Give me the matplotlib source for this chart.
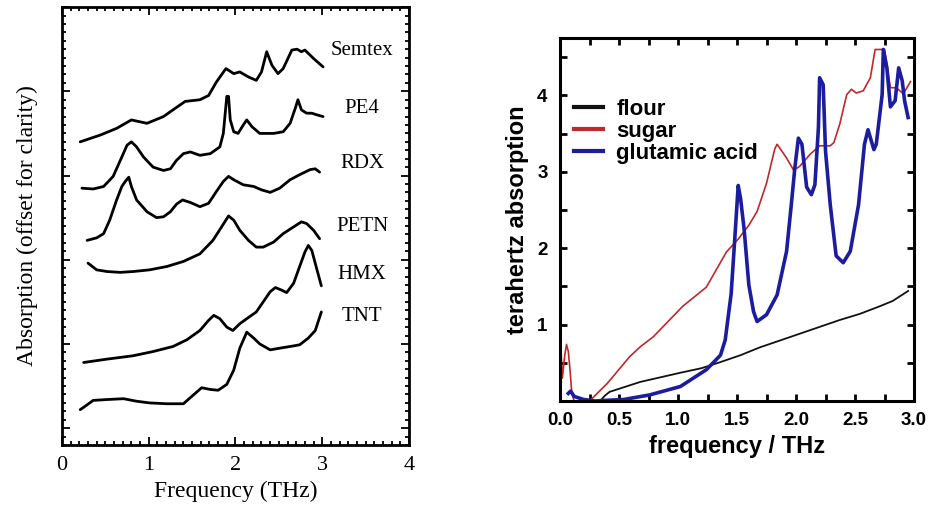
import matplotlib
matplotlib.use('agg')

import matplotlib.pyplot as plt
from matplotlib.lines import Line2D
from matplotlib.ticker import MultipleLocator

# ---- left panel: explosives, offset traces (x in THz, y in offset units) ----
semtex_x = [0.21, 0.44, 0.63, 0.80, 0.98, 1.17, 1.28, 1.42, 1.59, 1.69, 1.78, 1.89, 1.98, 2.05,
            2.15, 2.24, 2.30, 2.36, 2.42, 2.49, 2.55, 2.65, 2.71, 2.76, 2.80, 2.90, 3.01]
semtex_y = [3.40, 3.48, 3.56, 3.66, 3.62, 3.70, 3.78, 3.88, 3.90, 3.95, 4.11, 4.27, 4.21, 4.23,
            4.17, 4.13, 4.23, 4.47, 4.31, 4.21, 4.27, 4.49, 4.50, 4.47, 4.49, 4.39, 4.29]

pe4_x = [0.23, 0.36, 0.48, 0.59, 0.69, 0.75, 0.80, 0.86, 0.94, 1.05, 1.17, 1.25, 1.32, 1.40, 1.48,
         1.59, 1.71, 1.82, 1.86, 1.90, 1.92, 1.94, 1.98, 2.03, 2.09, 2.13, 2.19, 2.28, 2.44, 2.55,
         2.63, 2.69, 2.72, 2.76, 2.82, 2.88, 2.94, 3.01]
pe4_y = [2.85, 2.84, 2.87, 2.99, 3.22, 3.36, 3.40, 3.34, 3.22, 3.10, 3.06, 3.08, 3.18, 3.26, 3.28,
         3.24, 3.26, 3.34, 3.50, 3.94, 3.94, 3.66, 3.52, 3.50, 3.60, 3.66, 3.58, 3.50, 3.50, 3.52,
         3.62, 3.80, 3.90, 3.78, 3.74, 3.74, 3.72, 3.70]

rdx_x = [0.29, 0.40, 0.48, 0.55, 0.63, 0.69, 0.73, 0.77, 0.80, 0.86, 0.98, 1.09, 1.17, 1.25, 1.32,
         1.39, 1.48, 1.59, 1.69, 1.78, 1.86, 1.92, 1.98, 2.09, 2.21, 2.30, 2.40, 2.51, 2.63, 2.74,
         2.86, 2.92, 2.97]
rdx_y = [2.23, 2.26, 2.31, 2.47, 2.71, 2.87, 2.93, 2.98, 2.87, 2.71, 2.57, 2.50, 2.51, 2.57, 2.66,
         2.71, 2.68, 2.63, 2.67, 2.81, 2.93, 2.99, 2.95, 2.89, 2.87, 2.83, 2.80, 2.85, 2.95, 3.01,
         3.07, 3.08, 3.04]

petn_x = [0.30, 0.40, 0.52, 0.67, 0.82, 1.01, 1.21, 1.40, 1.59, 1.74, 1.84, 1.92, 1.98, 2.05,
          2.15, 2.24, 2.32, 2.44, 2.55, 2.67, 2.76, 2.82, 2.90, 2.97]
petn_y = [1.96, 1.88, 1.86, 1.85, 1.86, 1.88, 1.92, 1.98, 2.07, 2.23, 2.39, 2.52, 2.47, 2.35,
          2.23, 2.15, 2.15, 2.21, 2.31, 2.39, 2.45, 2.43, 2.35, 2.25]

hmx_x = [0.25, 0.52, 0.82, 1.05, 1.28, 1.44, 1.59, 1.69, 1.75, 1.82, 1.90, 1.97, 2.05, 2.13,
         2.24, 2.32, 2.40, 2.46, 2.53, 2.59, 2.67, 2.74, 2.80, 2.84, 2.88, 2.94, 2.99]
hmx_y = [0.78, 0.82, 0.86, 0.91, 0.97, 1.05, 1.16, 1.28, 1.34, 1.30, 1.20, 1.16, 1.24, 1.30,
         1.38, 1.50, 1.62, 1.67, 1.64, 1.61, 1.72, 1.92, 2.09, 2.17, 2.11, 1.88, 1.69]

tnt_x = [0.21, 0.28, 0.36, 0.52, 0.71, 0.86, 1.01, 1.21, 1.40, 1.51, 1.61, 1.71, 1.80, 1.90,
         1.98, 2.05, 2.13, 2.21, 2.28, 2.40, 2.51, 2.63, 2.74, 2.84, 2.92, 2.99]
tnt_y = [0.22, 0.27, 0.33, 0.34, 0.35, 0.32, 0.30, 0.29, 0.29, 0.39, 0.48, 0.46, 0.45, 0.52,
         0.69, 0.95, 1.14, 1.07, 1.00, 0.93, 0.95, 0.97, 0.99, 1.07, 1.16, 1.38]

left_names = ['Semtex', 'PE4', 'RDX', 'PETN', 'HMX', 'TNT']
left_label_y = [4.49, 3.80, 3.14, 2.40, 1.82, 1.33]

# ---- right panel: food/chemical absorption ----
flour_x = [0.34, 0.38, 0.42, 0.50, 0.68, 0.85, 1.02, 1.20, 1.36, 1.53, 1.69, 1.86, 2.03, 2.20,
           2.37, 2.54, 2.71, 2.82, 2.95]
flour_y = [0.00, 0.07, 0.12, 0.16, 0.25, 0.31, 0.37, 0.43, 0.51, 0.60, 0.70, 0.79, 0.88, 0.97,
           1.06, 1.14, 1.24, 1.31, 1.44]

sugar_x = [0.00, 0.01, 0.02, 0.04, 0.055, 0.07, 0.085, 0.10, 0.12, 0.25, 0.40, 0.59, 0.68, 0.79,
           1.04, 1.24, 1.41, 1.51, 1.60, 1.67, 1.75, 1.82, 1.84, 1.92, 1.98, 2.03, 2.12, 2.20,
           2.29, 2.32, 2.37, 2.43, 2.47, 2.51, 2.57, 2.63, 2.67, 2.75, 2.80, 2.85, 2.91, 2.97]
sugar_y = [0.00, 0.60, 0.30, 0.60, 0.74, 0.65, 0.40, 0.10, 0.00, 0.00, 0.23, 0.58, 0.71, 0.84,
           1.24, 1.49, 1.95, 2.12, 2.30, 2.48, 2.85, 3.30, 3.36, 3.18, 3.02, 3.07, 3.23, 3.34,
           3.34, 3.38, 3.62, 4.01, 4.08, 4.03, 4.06, 4.23, 4.60, 4.60, 4.10, 4.10, 4.02, 4.18]

glut_x = [0.07, 0.09, 0.12, 0.20, 0.30, 0.40, 0.54, 0.76, 1.02, 1.24, 1.36, 1.40, 1.45, 1.48,
          1.51, 1.53, 1.56, 1.60, 1.64, 1.67, 1.75, 1.84, 1.92, 1.96, 1.99, 2.02, 2.05, 2.09,
          2.13, 2.16, 2.19, 2.20, 2.23, 2.25, 2.29, 2.34, 2.40, 2.46, 2.53, 2.58, 2.61, 2.66,
          2.68, 2.73, 2.74, 2.77, 2.80, 2.84, 2.87, 2.90, 2.92, 2.95]
glut_y = [0.10, 0.13, 0.06, 0.02, 0.00, 0.01, 0.02, 0.08, 0.19, 0.41, 0.60, 0.80, 1.40, 2.10,
          2.82, 2.65, 2.25, 1.52, 1.17, 1.04, 1.13, 1.39, 1.96, 2.57, 3.05, 3.44, 3.36, 2.80,
          2.70, 2.83, 3.58, 4.23, 4.14, 3.27, 2.57, 1.90, 1.81, 1.96, 2.57, 3.36, 3.55, 3.29,
          3.36, 4.01, 4.60, 4.36, 3.85, 3.93, 4.36, 4.19, 3.93, 3.71]

right_names = ['flour', 'sugar', 'glutamic acid']
right_colors = ['#111111', '#c0282a', '#1c1ca0']

fig = plt.figure(figsize=(9.32, 5.14), dpi=100)

# ---------------- left panel ----------------
serif = 'Liberation Serif'
ax1 = fig.add_axes([0.0665, 0.1342, 0.3723, 0.852])
traces = [(semtex_x, semtex_y), (pe4_x, pe4_y), (rdx_x, rdx_y),
          (petn_x, petn_y), (hmx_x, hmx_y), (tnt_x, tnt_y)]
for xs, ys in traces:
    ax1.plot(xs, ys, color='black', lw=2.0, solid_capstyle='round', solid_joinstyle='round')
for name, ly in zip(left_names, left_label_y):
    ax1.text(3.46, ly, name, ha='center', va='center', fontsize=15, family=serif)

ax1.set_xlim(0, 4)
ax1.set_ylim(-0.2, 5.0)
ax1.xaxis.set_major_locator(MultipleLocator(1))
ax1.xaxis.set_minor_locator(MultipleLocator(0.1))
ax1.yaxis.set_major_locator(MultipleLocator(1))
ax1.yaxis.set_minor_locator(MultipleLocator(0.1))
ax1.tick_params(which='both', direction='in', top=True, right=True, width=1.3)
ax1.tick_params(which='major', length=6)
ax1.tick_params(which='minor', length=3)
ax1.tick_params(axis='x', labelsize=16, pad=8)
ax1.set_yticklabels([])
for lab in ax1.get_xticklabels():
    lab.set_family(serif)
for s in ax1.spines.values():
    s.set_linewidth(2.0)
ax1.set_xlabel('Frequency (THz)', fontsize=17, family=serif, labelpad=4)
ax1.set_ylabel('Absorption (offset for clarity)', fontsize=17, family=serif, labelpad=14)

# ---------------- right panel ----------------
sans = 'Liberation Sans'
ax2 = fig.add_axes([0.6009, 0.2198, 0.3798, 0.7062])
ax2.plot(flour_x, flour_y, color=right_colors[0], lw=1.3)
ax2.plot(sugar_x, sugar_y, color=right_colors[1], lw=1.2)
ax2.plot(glut_x, glut_y, color=right_colors[2], lw=2.6)

ax2.set_xlim(0, 3.0)
ax2.set_ylim(0, 4.75)
ax2.xaxis.set_major_locator(MultipleLocator(0.5))
ax2.xaxis.set_minor_locator(MultipleLocator(0.25))
ax2.yaxis.set_major_locator(MultipleLocator(1))
ax2.yaxis.set_minor_locator(MultipleLocator(0.5))
ax2.set_yticks([1, 2, 3, 4])
ax2.tick_params(which='both', direction='in', top=True, right=True, width=2, length=5)
ax2.tick_params(axis='x', labelsize=13.5, pad=8)
ax2.tick_params(axis='y', labelsize=13.5, pad=9)
ax2.set_xticklabels(['%.1f' % v for v in ax2.get_xticks()])
for lab in ax2.get_xticklabels() + ax2.get_yticklabels():
    lab.set_family(sans)
    lab.set_fontweight('bold')
for s in ax2.spines.values():
    s.set_linewidth(2.2)
ax2.set_xlabel('frequency / THz', fontsize=17, family=sans, fontweight='bold', labelpad=4)
ax2.set_ylabel('terahertz absorption', fontsize=17, family=sans, fontweight='bold', labelpad=6)

handles = [Line2D([], [], color=c, lw=3) for c in right_colors]
ax2.legend(handles, right_names, loc='upper left', bbox_to_anchor=(-0.017, 0.887),
           frameon=False, handlelength=1.3, handletextpad=0.6, labelspacing=0.05,
           prop={'family': sans, 'weight': 'bold', 'size': 16})

fig.savefig('out.png', dpi=100)
